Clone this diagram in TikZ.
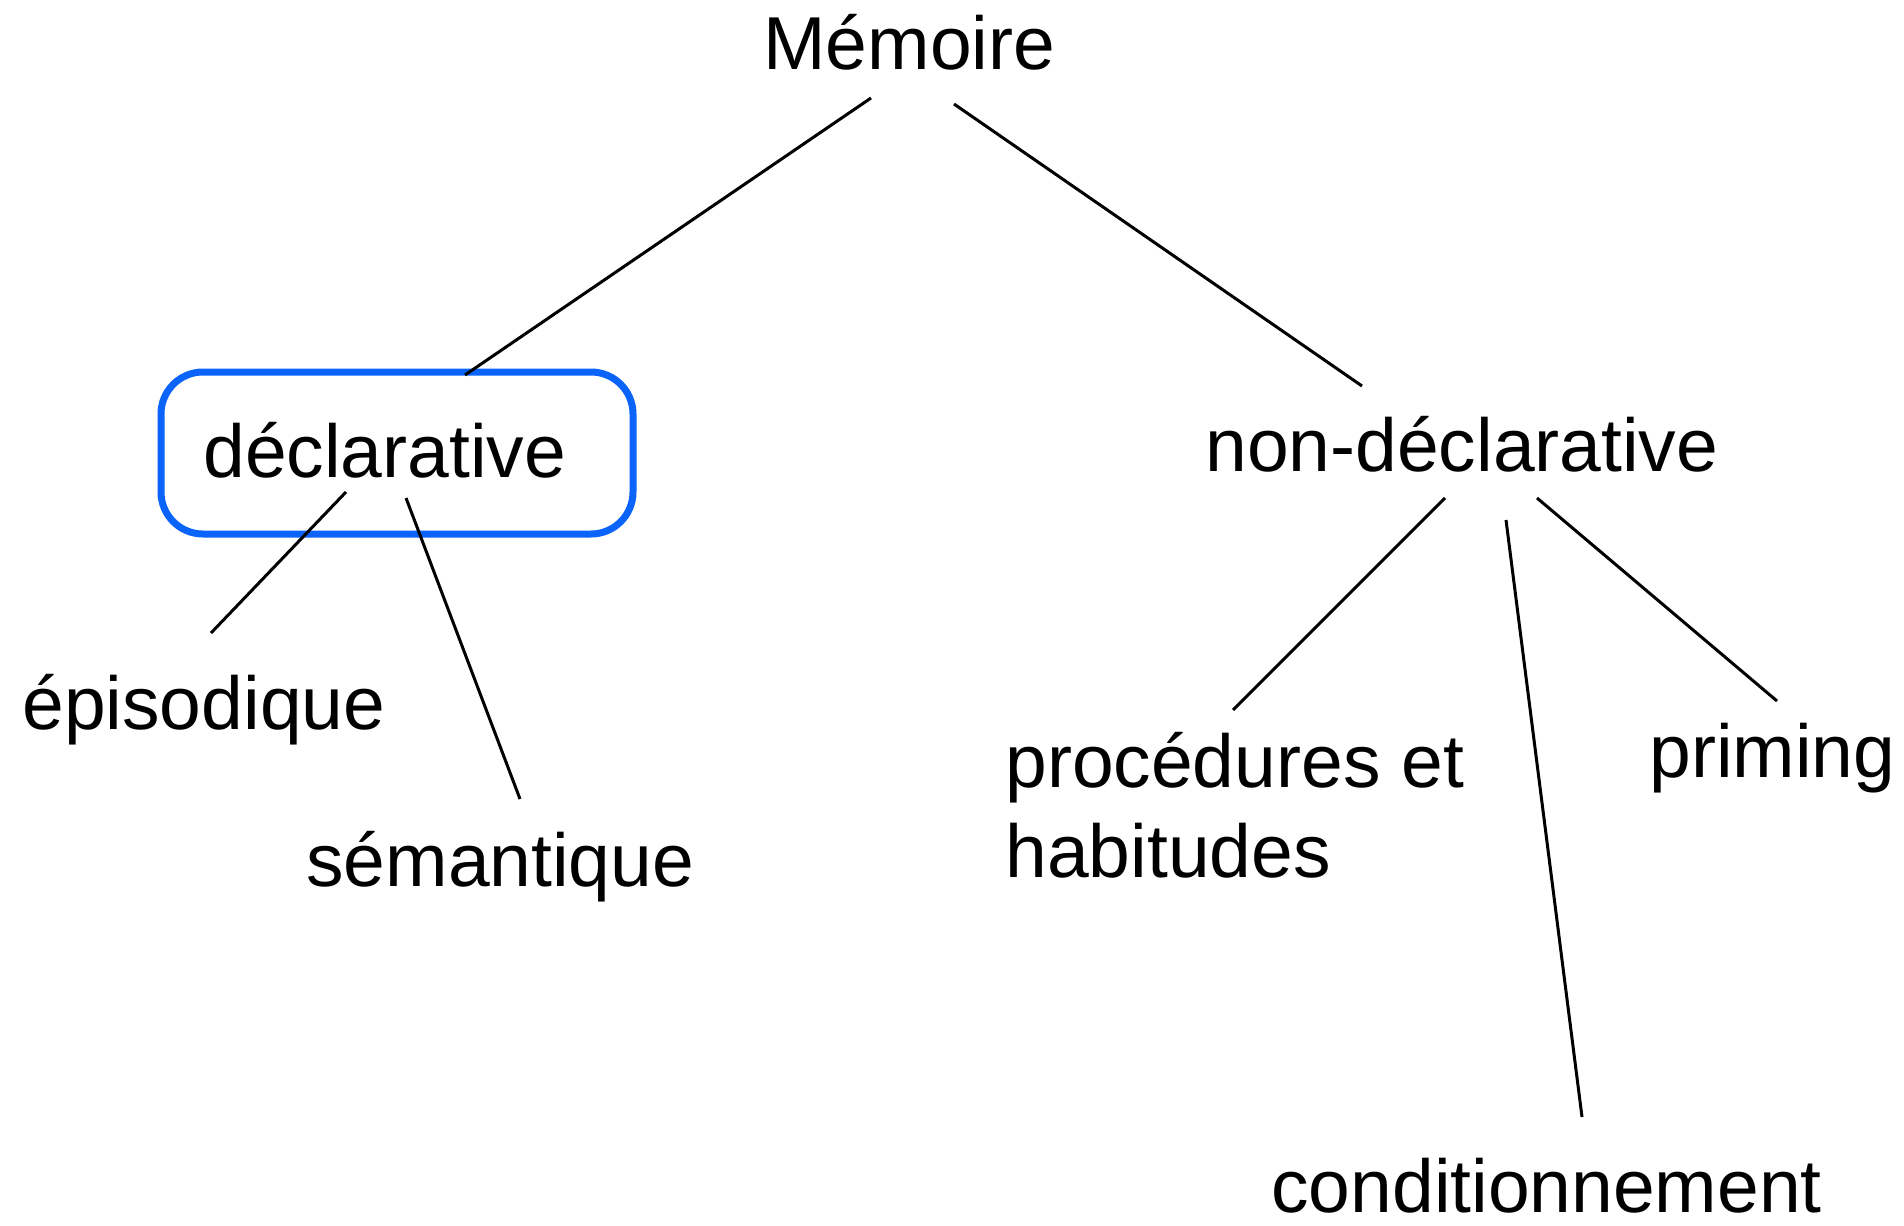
\documentclass[tikz,border=0pt]{standalone}
\usepackage{fontspec}
\setmainfont{Liberation Sans}
\definecolor{boxblue}{RGB}{10,100,250}
\begin{document}
\begin{tikzpicture}[x=0.5pt,y=-0.5pt,
  lbl/.style={inner sep=0pt,anchor=base west,font=\fontsize{37.5}{44}\selectfont},
  link/.style={line width=1.5pt,black},
  hbox/.style={draw=boxblue,line width=3.5pt,rounded corners=21pt}]
\useasboundingbox (0,0) rectangle (1904,1225);
% labels
\node[lbl] (mem) at (763,70) {Mémoire};
\node[lbl] (decl) at (203,477) {déclarative};
\node[lbl] (ndecl) at (1205,471) {non-déclarative};
\node[lbl] (epi) at (22,729) {épisodique};
\node[lbl] (sem) at (306,886) {sémantique};
\node[lbl] (proc) at (1005,787) {procédures et};
\node[lbl] (hab) at (1005,877) {habitudes};
\node[lbl] (prim) at (1649,777) {priming};
\node[lbl,text depth=0pt] (cond) at (1271,1212) {conditionnement};
% highlight box
\draw[hbox] (161,372) rectangle (633,534);
% connector end points
\coordinate (m1) at (871,98);   \coordinate (d0) at (465,375);
\coordinate (m2) at (954,104);  \coordinate (n0) at (1362,386);
\coordinate (d1) at (346,492);  \coordinate (e0) at (211,633);
\coordinate (d2) at (406,498);  \coordinate (s0) at (520,799);
\coordinate (n1) at (1445,498); \coordinate (p0) at (1233,710);
\coordinate (n2) at (1506,520); \coordinate (c0) at (1582,1117);
\coordinate (n3) at (1537,498); \coordinate (r0) at (1777,701);
% connectors
\draw[link] (m1) -- (d0);
\draw[link] (m2) -- (n0);
\draw[link] (d1) -- (e0);
\draw[link] (d2) -- (s0);
\draw[link] (n1) -- (p0);
\draw[link] (n2) -- (c0);
\draw[link] (n3) -- (r0);
\end{tikzpicture}
\end{document}
